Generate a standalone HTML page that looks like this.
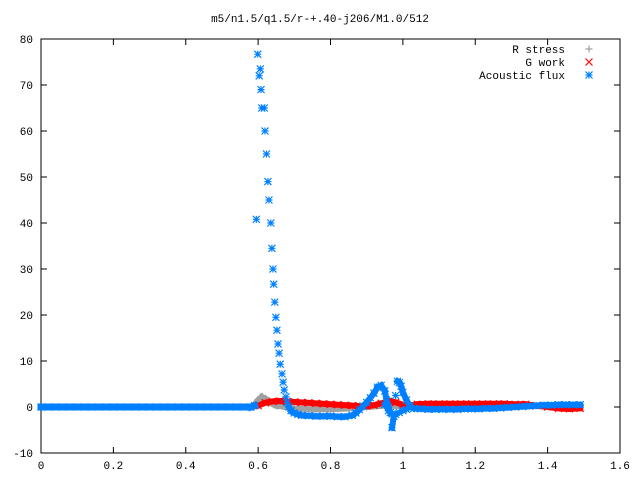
<!DOCTYPE html>
<html><head><meta charset="utf-8"><style>
html,body{margin:0;padding:0;background:#fff;}
svg{display:block;font-family:"Liberation Mono","DejaVu Sans Mono",monospace;font-size:11px;}
</style></head><body>
<svg id="chart" width="640" height="480" xmlns="http://www.w3.org/2000/svg">
<text x="320" y="22" text-anchor="middle">m5/n1.5/q1.5/r-+.40-j206/M1.0/512</text>
<g id="axes"></g>
<g id="marks"></g>
<g id="legend"></g>
</svg>
<script>
const xTicks=[0,0.2,0.4,0.6,0.8,1,1.2,1.4,1.6];
const xTickLabels=["0","0.2","0.4","0.6","0.8","1","1.2","1.4","1.6"];
const yTicks=[-10,0,10,20,30,40,50,60,70,80];
const yTickLabels=["-10","0","10","20","30","40","50","60","70","80"];
const flatX=[0,0.02,0.04,0.06,0.08,0.1,0.12,0.14,0.16,0.18,0.2,0.22,0.24,0.26,0.28,0.3,0.32,0.34,0.36,0.38,0.4,0.42,0.44,0.46,0.48,0.5,0.52,0.54,0.56,0.58];
const flatY=[0,0,0,0,0,0,0,0,0,0,0,0,0,0,0,0,0,0,0,0,0,0,0,0,0,0,0,0,0,0];
const rStressX=[0.59,0.6,0.61,0.62,0.63,0.65,0.7,0.75,0.8,0.85,0.9,0.95,1.0,1.05,1.1,1.15,1.2,1.25,1.3,1.35,1.4,1.45,1.49];
const rStressY=[0.5,1.5,2.2,1.8,1,0.3,-0.3,-0.5,-0.5,-0.3,0,0.3,0.2,0,0,0,0,0.1,0.1,0.2,0.2,0.2,0.2];
const gWorkX=[0.6,0.62,0.64,0.66,0.68,0.7,0.72,0.74,0.76,0.78,0.8,0.82,0.84,0.86,0.88,0.9,0.92,0.94,0.96,0.98,1.0,1.02,1.04,1.07,1.1,1.13,1.16,1.19,1.22,1.25,1.28,1.31,1.34,1.37,1.4,1.43,1.46,1.49];
const gWorkY=[0.3,0.9,1.2,1.3,1.2,1.1,1.0,0.9,0.8,0.7,0.6,0.5,0.4,0.3,0.2,0.2,0.4,0.8,1.2,1.0,0.5,0.3,0.6,0.7,0.7,0.7,0.7,0.7,0.7,0.7,0.7,0.6,0.6,0.3,0,-0.3,-0.4,-0.3];
const fluxX=[0.59,0.595,0.599,0.603,0.606,0.608,0.61,0.617,0.619,0.623,0.627,0.63,0.635,0.638,0.641,0.643,0.646,0.649,0.652,0.655,0.658,0.661,0.666,0.669,0.672,0.677,0.68,0.685,0.691,0.7,0.71,0.72,0.74,0.76,0.78,0.8,0.82,0.84,0.86,0.87,0.88,0.89,0.9,0.91,0.92,0.93,0.94,0.95,0.955,0.96,0.965,0.97,0.975,0.98,0.985,0.99,0.995,1.0,1.01,1.02,1.03,1.05,1.07,1.09,1.11,1.13,1.15,1.17,1.19,1.21,1.23,1.25,1.27,1.29,1.31,1.33,1.35,1.37,1.39,1.41,1.43,1.45,1.47,1.49];
const fluxY=[0.3,40.8,76.7,72,73.5,69,65,65,60,55,49,45,40,34.5,30,26.7,22.8,19.5,16.7,13.7,11.7,9.3,7.2,5.4,3.7,2.2,1,0,-0.8,-1.3,-1.6,-1.8,-1.9,-2,-2,-2,-2.1,-2.1,-1.8,-1.3,-0.6,0.2,1,2,3,4.3,4.7,3.5,1.5,0,-1.2,-4.5,-2,2.5,5.6,5.3,4.5,3.2,1.5,0.2,-0.3,-0.4,-0.5,-0.5,-0.5,-0.5,-0.5,-0.4,-0.4,-0.4,-0.3,-0.3,-0.2,-0.1,0,0.1,0.2,0.3,0.4,0.4,0.5,0.5,0.5,0.5];
const fluxLowX=[0.95,0.96,0.97,0.98,0.99,1.0,1.01];
const fluxLowY=[0.5,-0.8,-1.5,-1.6,-1.2,-0.8,-0.5];

const NS="http://www.w3.org/2000/svg";
const L=41,R=620,T=39,B=453;
const xs=v=>L+(v-0)/(1.6-0)*(R-L);
const ys=v=>B-(v+10)/90*(B-T);
function mk(tag,attrs,parent){const e=document.createElementNS(NS,tag);for(const k in attrs)e.setAttribute(k,attrs[k]);parent.appendChild(e);return e;}
const axes=document.getElementById('axes'),marks=document.getElementById('marks'),legend=document.getElementById('legend');
const frame=mk('rect',{x:L,y:T,width:R-L,height:B-T,fill:'none',stroke:'#000','stroke-width':1},axes);


xTicks.forEach((v,i)=>{const x=xs(v);
 const t=mk('path',{d:`M${x},${B}v-6M${x},${T}v6`,stroke:'#000'},axes);
 
 
 const tx=mk('text',{x:x,y:B+16,'text-anchor':'middle'},axes);tx.textContent=xTickLabels[i];
 
 });
yTicks.forEach((v,i)=>{const y=ys(v);
 const t=mk('path',{d:`M${L},${y}h6M${R},${y}h-6`,stroke:'#000'},axes);
 
 
 const tx=mk('text',{x:L-8,y:y+4,'text-anchor':'end'},axes);tx.textContent=yTickLabels[i];
 
 });
function glyph(type,cx,cy,color,parent,name){const s=3.5;let d='';
 if(type==='plus')d=`M${cx-s},${cy}h${2*s}M${cx},${cy-s}v${2*s}`;
 else if(type==='x')d=`M${cx-s},${cy-s}l${2*s},${2*s}M${cx-s},${cy+s}l${2*s},${-2*s}`;
 else d=`M${cx-s},${cy}h${2*s}M${cx},${cy-s}v${2*s}M${cx-s},${cy-s}l${2*s},${2*s}M${cx-s},${cy+s}l${2*s},${-2*s}`;
 const p=mk('path',{d:d,stroke:color,'stroke-width':1.2,fill:'none'},parent);
 
 }
function band(X,Y,color,w,name){let d='';
 for(let i=1;i<X.length;i++){const x0=xs(X[i-1]),y0=ys(Y[i-1]),x1=xs(X[i]),y1=ys(Y[i]);
  if(Math.abs(y1-y0)<12&&Math.abs(x1-x0)<30)d+=`M${x0},${y0}L${x1},${y1}`;}
 const p=mk('path',{d:d,stroke:color,'stroke-width':w,fill:'none','stroke-linecap':'square'},marks);
 
 }
function series(X,Y,type,color,name){for(let i=0;i<X.length;i++)glyph(type,xs(X[i]),ys(Y[i]),color,marks,name);}
band(rStressX,rStressY,'#a0a0a0',6,'r-stress-band');
series(rStressX,rStressY,'plus','#a0a0a0','r-stress-point');
band(gWorkX,gWorkY,'#ff0000',6,'g-work-band');
series(gWorkX,gWorkY,'x','#ff0000','g-work-point');
band(flatX.concat([0.59]),flatY.concat([0.3]),'#0080ff',7,'acoustic-flux-band');
band(fluxX.slice(27),fluxY.slice(27),'#0080ff',6,'acoustic-flux-band');
band(fluxLowX,fluxLowY,'#0080ff',5,'acoustic-flux-band');
series(flatX,flatY,'star','#0080ff','acoustic-flux-point');
series(fluxX,fluxY,'star','#0080ff','acoustic-flux-point');
series(fluxLowX,fluxLowY,'star','#0080ff','acoustic-flux-point');
const leg=[["R stress","plus","#a0a0a0"],["G work","x","#ff0000"],["Acoustic flux","star","#0080ff"]];
leg.forEach((e,i)=>{const y=49+i*13;
 const t=mk('text',{x:565,y:y+4,'text-anchor':'end'},legend);t.textContent=e[0];
 
 
 glyph(e[1],589,y,e[2],legend,'legend-marker');});
</script>
</body></html>
